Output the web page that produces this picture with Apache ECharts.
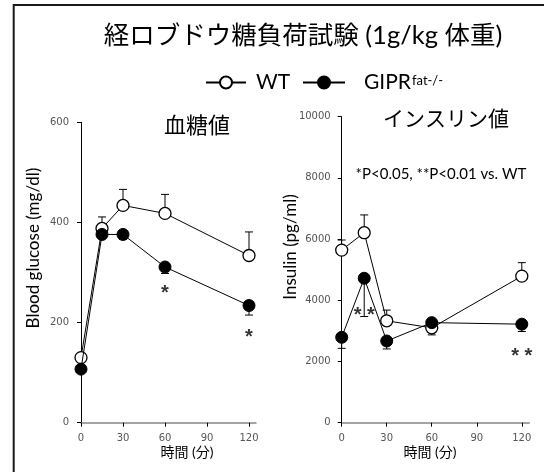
<!DOCTYPE html>
<html><head><meta charset="utf-8">
<script src="https://cdn.jsdelivr.net/npm/echarts@6/dist/echarts.min.js"></script>
<style>html,body{margin:0;padding:0;background:#fff}#c{width:544px;height:472px}</style>
</head><body><div id="c"></div>
<script>
// ---- data ----
const times = [0, 15, 30, 60, 120];
const xTicks = [0, 30, 60, 90, 120];
const glucoseTicks = [0, 200, 400, 600];
const insulinTicks = [0, 2000, 4000, 6000, 8000, 10000];
const glucoseWT = [130, 388, 434, 418, 334];
const glucoseWTErr = [8, 23, 32, 38, 47];
const glucoseKO = [107, 376, 376, 311, 234];
const glucoseKOErr = [6, 6, 10, 13, 19];
const insulinWT = [5640, 6210, 3330, 3100, 4790];
const insulinWTErr = [330, 580, 350, 200, 440];
const insulinKO = [2790, 4720, 2670, 3270, 3220];
const insulinKOErr = [360, 1250, 260, 400, 240];
const glucoseSig = [[60, 258, '*'], [120, 171, '*']];
const insulinSig = [[15, 3500, '* *'], [120, 2180, '* *']];

const FONT = "Lato, 'Noto Sans CJK JP', sans-serif";
const TICKFONT = "'DejaVu Sans', sans-serif";
const STARFONT = "'Liberation Sans', sans-serif";

function pairs(vals) { return times.map((t, i) => [t, vals[i]]); }
function errData(vals, errs, dir) { return times.map((t, i) => [t, vals[i], errs[i] * dir]); }

function errRender(params, api) {
  const x = api.value(0), y = api.value(1), e = api.value(2);
  const p0 = api.coord([x, y]);
  const p1 = api.coord([x, y + e]);
  const w = 4;
  return {
    type: 'group',
    children: [
      {type: 'line', shape: {x1: p0[0], y1: p0[1], x2: p1[0], y2: p1[1]}, style: {stroke: '#000', lineWidth: 1}},
      {type: 'line', shape: {x1: p1[0] - w, y1: p1[1], x2: p1[0] + w, y2: p1[1]}, style: {stroke: '#000', lineWidth: 1}}
    ]
  };
}

function xAxisDef(idx) {
  return {
    type: 'value', gridIndex: idx, min: 0, max: 125,
    axisLine: {show: true, onZero: false, lineStyle: {color: '#868686', width: 1.5}},
    axisTick: {show: true, length: 4, lineStyle: {color: '#000', width: 1}, customValues: xTicks},
    axisLabel: {customValues: xTicks, margin: 11, fontFamily: TICKFONT, fontSize: 10, color: '#555',
                formatter: v => String(v)},
    splitLine: {show: false}
  };
}
function yAxisDef(idx, max, interval, ticks, margin) {
  return {
    type: 'value', gridIndex: idx, min: 0, max: max, interval: interval,
    axisLine: {show: true, onZero: false, lineStyle: {color: '#000', width: 1}},
    axisTick: {show: true, length: 4, lineStyle: {color: '#000', width: 1}, customValues: ticks},
    axisLabel: {customValues: ticks, margin: margin, fontFamily: TICKFONT, fontSize: 10, color: '#555',
                formatter: v => String(v)},
    splitLine: {show: false}
  };
}

function lineSeries(name, data, idx, filled, z) {
  return {
    name: name, type: 'line', xAxisIndex: idx, yAxisIndex: idx, data: data,
    symbol: 'circle', symbolSize: 12, z: z,
    lineStyle: {color: '#000', width: 1},
    itemStyle: filled ? {color: '#000', borderColor: '#000', borderWidth: 1}
                      : {color: '#fff', borderColor: '#000', borderWidth: 1.3},
    emphasis: {disabled: true}, animation: false
  };
}
function errSeries(data, idx) {
  return {type: 'custom', xAxisIndex: idx, yAxisIndex: idx, data: data, renderItem: errRender,
          encode: {x: 0, y: 1}, z: 1, silent: true, animation: false};
}
function sigSeries(data, idx) {
  return {
    type: 'scatter', xAxisIndex: idx, yAxisIndex: idx, data: data, symbolSize: 1,
    itemStyle: {color: 'rgba(0,0,0,0)'}, z: 5, silent: true, animation: false,
    label: {show: true, position: 'inside', formatter: p => p.value[2],
            fontFamily: STARFONT, fontSize: 20, fontWeight: 'bold', color: '#000'}
  };
}

function txt(text, x, y, size, rot) {
  return {type: 'text', x: x, y: y, rotation: rot || 0, silent: true,
          style: {text: text, fontFamily: FONT, fontSize: size, fill: '#000', align: 'center', verticalAlign: 'middle'}};
}

const option = {
  backgroundColor: '#fff',
  animation: false,
  grid: [
    {left: 81, top: 122.3, width: 175, height: 300.4, outerBoundsMode: 'none'},
    {left: 341.7, top: 116.7, width: 187.6, height: 306, outerBoundsMode: 'none'}
  ],
  xAxis: [xAxisDef(0), xAxisDef(1)],
  yAxis: [yAxisDef(0, 600, 200, glucoseTicks, 12), yAxisDef(1, 10000, 2000, insulinTicks, 11)],
  legend: [
    {left: 200, top: 67, itemWidth: 40, itemHeight: 15, data: ['WT'], selectedMode: false,
     textStyle: {fontFamily: FONT, fontSize: 21, color: '#000', padding: [0, 0, 0, 5]}},
    {left: 297, top: 67, itemWidth: 42, itemHeight: 15, data: ['GIPR'], selectedMode: false,
     formatter: () => '{n|GIPR}{s|fat-/-}',
     textStyle: {fontFamily: FONT, fontSize: 21, color: '#000', padding: [0, 0, 0, 14],
       rich: {n: {fontFamily: FONT, fontSize: 21, color: '#000'},
              s: {fontFamily: FONT, fontSize: 13, color: '#000', verticalAlign: 'top', padding: [2, 0, 0, 1]}}}}
  ],
  graphic: [
    {type: 'rect', shape: {x: 13.7, y: 5, width: 700, height: 700}, style: {fill: 'none', stroke: '#1a1a1a', lineWidth: 2}, silent: true},
    txt('経ロブドウ糖負荷試験 (1g/kg 体重)', 303, 36, 25.5),
    txt('血糖値', 197, 126, 22),
    txt('インスリン値', 446, 119, 21),
    txt('*P<0.05, **P<0.01 vs. WT', 441, 174, 15),
    txt('時間 (分)', 187, 452, 14),
    txt('時間 (分)', 430, 452, 14),
    txt('Blood glucose (mg/dl)', 34, 248, 17, Math.PI / 2),
    txt('Insulin (pg/ml)', 291, 247, 17, Math.PI / 2)
  ],
  series: [
    errSeries(errData(glucoseWT, glucoseWTErr, 1), 0),
    errSeries(errData(glucoseKO, glucoseKOErr, -1), 0),
    lineSeries('WT', pairs(glucoseWT), 0, false, 2),
    lineSeries('GIPR', pairs(glucoseKO), 0, true, 3),
    sigSeries(glucoseSig, 0),
    errSeries(errData(insulinWT, insulinWTErr, 1), 1),
    errSeries(errData(insulinKO, insulinKOErr, -1), 1),
    lineSeries('WT', pairs(insulinWT), 1, false, 2),
    lineSeries('GIPR', pairs(insulinKO), 1, true, 3),
    sigSeries(insulinSig, 1)
  ]
};

const chart = echarts.init(document.getElementById('c'), null, {renderer: 'canvas'});
chart.setOption(option);
</script>
</body></html>
